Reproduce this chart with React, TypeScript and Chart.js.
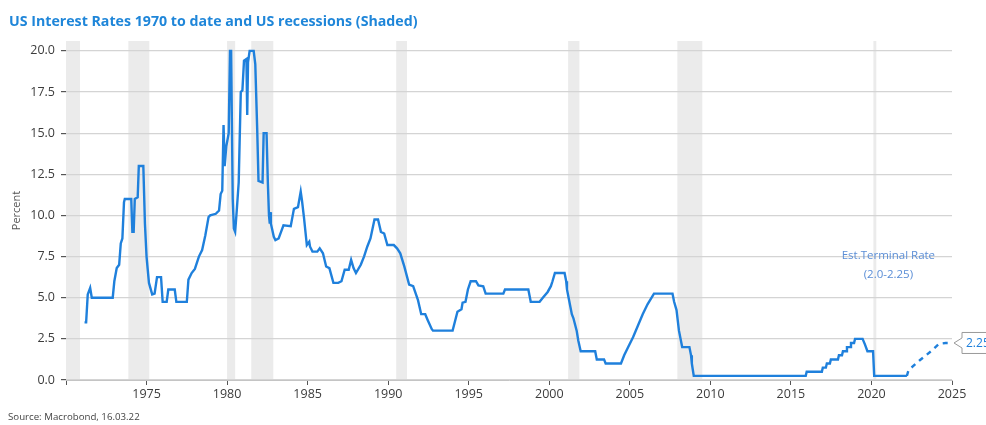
import React, { useEffect, useRef } from "react";
import { Chart, registerables } from "chart.js";

Chart.register(...registerables);

const titleText = "US Interest Rates 1970 to date and US recessions (Shaded)";
const sourceText = "Source: Macrobond, 16.03.22";
const yAxisTitle = "Percent";
const annotationLines = ["Est.Terminal Rate", "(2.0-2.25)"];
const endLabel = "2.25";
const endLabelValue = 2.25;

const yTickValues = [0, 2.5, 5, 7.5, 10, 12.5, 15, 17.5, 20];

// Recessions (start year, end year)
const recessionStarts = [1969.92, 1973.87, 1980.0, 1981.5, 1990.5, 2001.17, 2007.95, 2020.12];
const recessionEnds = [1970.87, 1975.17, 1980.5, 1982.87, 1991.17, 2001.87, 2009.5, 2020.3];

// Fed funds rate (decimal year, percent)
const rateYears = [
  1971.15, 1971.25, 1971.35, 1971.5, 1971.6, 1972.9, 1973.0, 1973.15, 1973.3, 1973.4,
  1973.5, 1973.6, 1973.65, 1974.05, 1974.12, 1974.2, 1974.27, 1974.45, 1974.52, 1974.8,
  1974.9, 1975.0, 1975.15, 1975.35, 1975.5, 1975.65, 1975.9, 1976.0, 1976.25, 1976.35,
  1976.75, 1976.85, 1977.5, 1977.6, 1977.8, 1978.0, 1978.25, 1978.45, 1978.65, 1978.85,
  1978.95, 1979.3, 1979.5, 1979.6, 1979.7, 1979.78, 1979.85, 1979.95, 1980.1, 1980.18,
  1980.25, 1980.35, 1980.42, 1980.5, 1980.6, 1980.72, 1980.85, 1980.95, 1981.05, 1981.2,
  1981.25, 1981.3, 1981.4, 1981.65, 1981.75, 1981.87, 1981.95, 1982.2, 1982.27, 1982.45,
  1982.53, 1982.6, 1982.65, 1982.68, 1982.72, 1982.9, 1983.0, 1983.2, 1983.35, 1983.5,
  1983.95, 1984.15, 1984.4, 1984.57, 1984.65, 1984.77, 1984.95, 1985.1, 1985.15, 1985.3,
  1985.6, 1985.75, 1985.95, 1986.15, 1986.35, 1986.6, 1986.9, 1987.1, 1987.3, 1987.55,
  1987.7, 1987.85, 1988.0, 1988.3, 1988.5, 1988.7, 1988.9, 1989.15, 1989.37, 1989.55,
  1989.75, 1989.95, 1990.35, 1990.55, 1990.75, 1991.0, 1991.3, 1991.55, 1991.85, 1992.05,
  1992.3, 1992.45, 1992.7, 1992.78, 1994.0, 1994.3, 1994.55, 1994.62, 1994.8, 1994.95,
  1995.12, 1995.45, 1995.6, 1995.9, 1996.05, 1997.15, 1997.25, 1998.7, 1998.85, 1999.4,
  1999.6, 1999.9, 2000.1, 2000.2, 2000.35, 2000.95, 2001.05, 2001.1, 2001.3, 2001.4,
  2001.5, 2001.7, 2001.8, 2001.95, 2002.85, 2002.95, 2003.4, 2003.5, 2004.45, 2004.65,
  2004.9, 2005.2, 2005.5, 2005.8, 2006.1, 2006.5, 2007.65, 2007.75, 2007.9, 2008.05,
  2008.25, 2008.7, 2008.8, 2008.85, 2008.97, 2015.92, 2015.98, 2016.92, 2016.98, 2017.17,
  2017.23, 2017.42, 2017.48, 2017.92, 2017.98, 2018.17, 2018.23, 2018.42, 2018.48, 2018.67,
  2018.73, 2018.92, 2018.98, 2019.45, 2019.6, 2019.75, 2020.1, 2020.17, 2022.2,
];
const rateValues = [
  3.5, 3.5, 5.2, 5.6, 5.0, 5.0, 6.0, 6.8, 7.0, 8.3,
  8.6, 10.8, 11.0, 11.0, 9.0, 9.0, 11.0, 11.1, 13.0, 13.0,
  9.5, 7.5, 5.9, 5.2, 5.25, 6.25, 6.25, 4.75, 4.75, 5.5,
  5.5, 4.75, 4.75, 6.1, 6.5, 6.75, 7.5, 7.9, 8.8, 9.9,
  10.0, 10.1, 10.3, 11.3, 11.5, 15.5, 13.0, 14.2, 15.0, 20.0,
  20.0, 11.0, 9.2, 9.0, 10.3, 12.0, 17.5, 17.6, 19.4, 19.5,
  16.1, 19.3, 20.0, 20.0, 19.2, 15.2, 12.1, 12.0, 15.0, 15.0,
  12.0, 10.0, 9.5, 10.2, 9.5, 8.7, 8.5, 8.6, 9.0, 9.4,
  9.35, 10.4, 10.5, 11.45, 10.9, 9.9, 8.2, 8.4, 8.1, 7.8,
  7.8, 8.0, 7.7, 6.9, 6.8, 5.9, 5.9, 6.0, 6.7, 6.7,
  7.3, 6.8, 6.5, 7.0, 7.5, 8.1, 8.6, 9.75, 9.75, 9.0,
  8.9, 8.2, 8.2, 8.0, 7.7, 6.9, 5.8, 5.7, 4.85, 4.0,
  4.0, 3.65, 3.1, 3.0, 3.0, 4.15, 4.3, 4.7, 4.75, 5.5,
  6.0, 6.0, 5.75, 5.7, 5.25, 5.25, 5.5, 5.5, 4.75, 4.75,
  5.0, 5.35, 5.7, 6.0, 6.5, 6.5, 6.0, 5.5, 4.5, 4.0,
  3.75, 3.0, 2.4, 1.75, 1.75, 1.25, 1.25, 1.0, 1.0, 1.5,
  2.0, 2.6, 3.3, 4.0, 4.6, 5.25, 5.25, 4.75, 4.25, 3.0,
  2.0, 2.0, 1.5, 1.0, 0.25, 0.25, 0.5, 0.5, 0.75, 0.75,
  1.0, 1.0, 1.25, 1.25, 1.5, 1.5, 1.75, 1.75, 2.0, 2.0,
  2.25, 2.25, 2.5, 2.5, 2.15, 1.75, 1.75, 0.25, 0.25,
];

// Projected path to terminal rate
const projYears = [2022.2, 2022.3, 2023.0, 2023.7, 2024.2, 2024.6, 2025.0];
const projValues = [0.25, 0.6, 1.2, 1.75, 2.2, 2.25, 2.25];

const LINE_COLOR = "#1f80dc";
const FONT = "'Open Sans', sans-serif";

export default function App() {
  const canvasRef = useRef<HTMLCanvasElement | null>(null);

  useEffect(() => {
    const canvas = canvasRef.current;
    if (!canvas) return;

    const overlay = {
      id: "overlay",
      beforeDraw(chart: any) {
        const { ctx, chartArea } = chart;
        const xs = chart.scales.x;
        ctx.save();
        ctx.fillStyle = "#ffffff";
        ctx.fillRect(0, 0, chart.width, chart.height);
        ctx.fillStyle = "#ebebeb";
        for (let i = 0; i < recessionStarts.length; i++) {
          const a = Math.max(xs.getPixelForValue(recessionStarts[i]), chartArea.left);
          const b = Math.min(xs.getPixelForValue(recessionEnds[i]), chartArea.right);
          if (b > a) ctx.fillRect(a, chartArea.top, b - a, chartArea.bottom - chartArea.top);
        }
        ctx.restore();
      },
      afterDraw(chart: any) {
        const { ctx } = chart;
        const xs = chart.scales.x;
        const ys = chart.scales.y;
        ctx.save();
        // title
        ctx.fillStyle = "#1f86d9";
        ctx.font = `bold 14.2px ${FONT}`;
        ctx.textBaseline = "middle";
        ctx.textAlign = "left";
        ctx.fillText(titleText, 9, 22);
        // source
        ctx.fillStyle = "#444444";
        ctx.font = `9.7px ${FONT}`;
        ctx.fillText(sourceText, 8, 417);
        // annotation
        ctx.fillStyle = "#5b8ed6";
        ctx.font = `11.5px ${FONT}`;
        ctx.textAlign = "center";
        ctx.fillText(annotationLines[0], xs.getPixelForValue(2021.05), ys.getPixelForValue(7.55));
        ctx.fillText(annotationLines[1], xs.getPixelForValue(2021.05), ys.getPixelForValue(6.4));
        // end label box
        const px = xs.getPixelForValue(2025) + 2;
        const py = ys.getPixelForValue(endLabelValue);
        const bx = px + 8;
        const h = 21;
        ctx.beginPath();
        ctx.moveTo(px, py);
        ctx.lineTo(bx, py - 5);
        ctx.lineTo(bx, py - h / 2);
        ctx.lineTo(bx + 60, py - h / 2);
        ctx.lineTo(bx + 60, py + h / 2);
        ctx.lineTo(bx, py + h / 2);
        ctx.lineTo(bx, py + 5);
        ctx.closePath();
        ctx.fillStyle = "#ffffff";
        ctx.fill();
        ctx.strokeStyle = "#9a9a9a";
        ctx.lineWidth = 1;
        ctx.stroke();
        ctx.fillStyle = "#1f80dc";
        ctx.font = `12px ${FONT}`;
        ctx.textAlign = "left";
        ctx.fillText(endLabel, bx + 4, py + 0.5);
        ctx.restore();
      },
    };

    const chart = new Chart(canvas, {
      type: "line",
      data: {
        datasets: [
          {
            data: rateYears.map((x, i) => ({ x, y: rateValues[i] })),
            borderColor: LINE_COLOR,
            borderWidth: 2.4,
            pointRadius: 0,
            tension: 0,
            fill: false,
          },
          {
            data: projYears.map((x, i) => ({ x, y: projValues[i] })),
            borderColor: LINE_COLOR,
            borderWidth: 2.4,
            borderDash: [5, 5],
            pointRadius: 0,
            tension: 0,
            fill: false,
          },
        ],
      },
      options: {
        responsive: false,
        animation: false,
        devicePixelRatio: 1,
        layout: { padding: { top: 41, right: 34, bottom: 20, left: 0 } },
        plugins: {
          legend: { display: false },
          tooltip: { enabled: false },
          title: { display: false },
        },
        scales: {
          x: {
            type: "linear",
            min: 1970,
            max: 2025,
            afterFit: (s: any) => {
              s.height = 25;
            },
            ticks: {
              stepSize: 5,
              padding: 2,
              color: "#3c3c3c",
              font: { family: FONT, size: 12.5 },
              maxRotation: 0,
              callback: (v: any) => (v === 1970 ? "" : String(v)),
            },
            grid: {
              drawOnChartArea: false,
              drawTicks: true,
              tickLength: 5,
              tickColor: "#555555",
            },
            border: { display: true, color: "#c4c4c4" },
          },
          y: {
            type: "linear",
            min: 0,
            max: 20.6,
            afterFit: (s: any) => {
              s.width = 66;
            },
            afterBuildTicks: (s: any) => {
              s.ticks = yTickValues.map((v) => ({ value: v }));
            },
            ticks: {
              padding: 6,
              color: "#3c3c3c",
              font: { family: FONT, size: 12.5 },
              callback: (v: any) => Number(v).toFixed(1),
            },
            grid: {
              color: "#d4d4d4",
              lineWidth: 1.2,
              tickLength: 5,
              tickColor: "#555555",
            },
            border: { display: false },
            title: {
              display: true,
              text: yAxisTitle,
              color: "#555555",
              font: { family: FONT, size: 11 },
              padding: { top: 10, bottom: 0 },
            },
          },
        },
      },
      plugins: [overlay],
    });

    return () => chart.destroy();
  }, []);

  return (
    <div style={{ position: "fixed", left: 0, top: 0, width: 986, height: 425, background: "#fff" }}>
      <canvas ref={canvasRef} width={986} height={425} style={{ display: "block" }} />
    </div>
  );
}
